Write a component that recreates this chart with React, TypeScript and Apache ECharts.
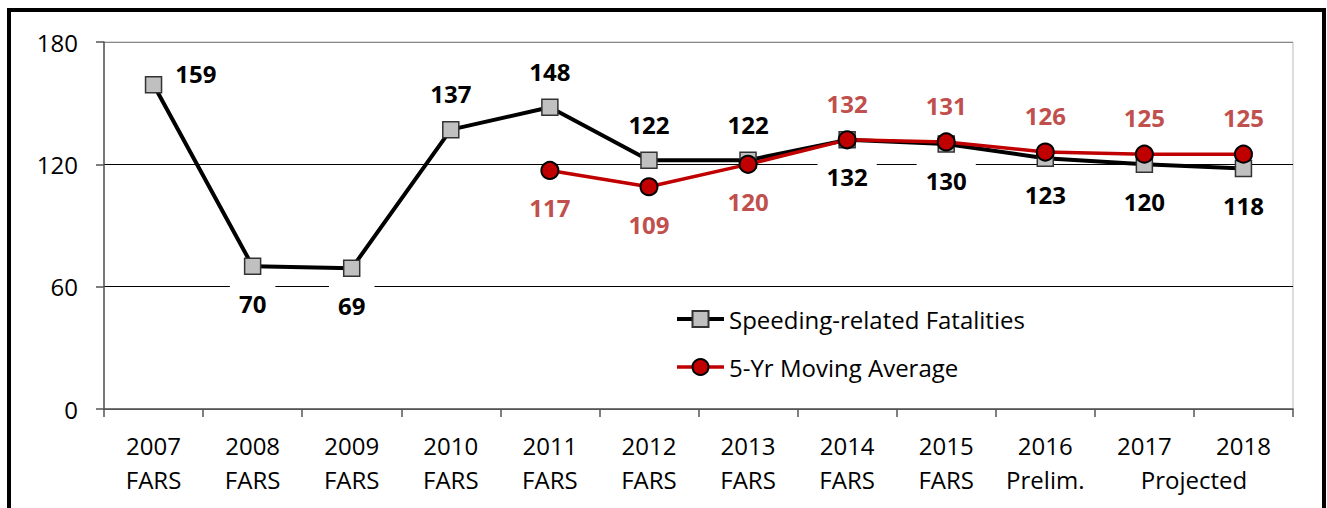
import React, { useEffect, useRef } from "react";
import * as echarts from "echarts";

const years = ["2007", "2008", "2009", "2010", "2011", "2012", "2013", "2014", "2015", "2016", "2017", "2018"];
const subLabels = ["FARS", "FARS", "FARS", "FARS", "FARS", "FARS", "FARS", "FARS", "FARS", "Prelim.", "", ""];
const projectedLabel = "Projected";
const fatalities = [159, 70, 69, 137, 148, 122, 122, 132, 130, 123, 120, 118];
const movingAvg = [null, null, null, null, 117, 109, 120, 132, 131, 126, 125, 125];
// label placement per point
const fatalPos = ["right", "bottom", "bottom", "top", "top", "top", "top", "bottom", "bottom", "bottom", "bottom", "bottom"];
const avgPos = ["", "", "", "", "bottom", "bottom", "bottom", "top", "top", "top", "top", "top"];
const yTicks = { min: 0, max: 180, interval: 60 };

const FONT = "'Open Sans', 'Noto Sans', sans-serif";

export default function App() {
  const ref = useRef<HTMLDivElement>(null);
  useEffect(() => {
    if (!ref.current) return;
    const chart = echarts.init(ref.current, null, { renderer: "svg" });
    const categories = years.map((y, i) => (subLabels[i] ? y + "\n" + subLabels[i] : y));

    const labelBase = {
      show: true,
      fontFamily: FONT,
      fontSize: 24,
      fontWeight: "bold" as const,
      backgroundColor: "#fff",
    };
    const posLabel = (p: string) =>
      p === "right"
        ? { position: "right", distance: 4, offset: [0, -11], padding: [4, 9] }
        : p === "bottom"
        ? { position: "bottom", distance: 7, padding: [9, 9, 4, 9] }
        : { position: "top", distance: 11, padding: [4, 9] };

    const fatalData = fatalities.map((v, i) => ({ value: v, label: posLabel(fatalPos[i]) }));
    const avgData = movingAvg.map((v, i) => ({ value: v, label: posLabel(avgPos[i] || "top") }));

    chart.setOption({
      animation: false,
      backgroundColor: "#fff",
      grid: {
        left: 104,
        right: 34,
        top: 42,
        bottom: 99,
        show: true,
        borderColor: "#bbb",
        borderWidth: 1,
      },
      legend: {
        left: 670,
        top: 302,
        orient: "vertical",
        itemWidth: 47,
        itemHeight: 20,
        itemGap: 24,
        lineStyle: { width: "inherit" },
        textStyle: { fontFamily: FONT, fontSize: 24, color: "#000" },
        data: ["Speeding-related Fatalities", "5-Yr Moving Average"],
      },
      xAxis: {
        type: "category",
        data: categories,
        boundaryGap: true,
        axisLine: { lineStyle: { color: "#555", width: 1.5 } },
        axisTick: { show: true, length: 8, interval: 0, lineStyle: { color: "#555", width: 1.5 } },
        axisLabel: {
          interval: 0,
          fontFamily: FONT,
          fontSize: 24,
          lineHeight: 34,
          color: "#000",
          margin: 19,
        },
      },
      yAxis: {
        type: "value",
        min: yTicks.min,
        max: yTicks.max,
        interval: yTicks.interval,
        axisLine: { show: true, lineStyle: { color: "#555", width: 1.5 } },
        axisTick: { show: true, length: 8, lineStyle: { color: "#555", width: 1.5 } },
        axisLabel: { fontFamily: FONT, fontSize: 24, color: "#000", margin: 26 },
        splitLine: { show: true, lineStyle: { color: ["#555", "#000", "#000", "#888"], width: 1 } },
      },
      series: [
        {
          name: "Speeding-related Fatalities",
          type: "line",
          data: fatalData,
          symbol: "rect",
          symbolSize: 16,
          lineStyle: { color: "#000", width: 4 },
          itemStyle: { color: "#C0C0C0", borderColor: "#333", borderWidth: 1.5 },
          label: { ...labelBase, color: "#000" },
          z: 2,
        },
        {
          name: "5-Yr Moving Average",
          type: "line",
          data: avgData,
          symbol: "circle",
          symbolSize: 17,
          lineStyle: { color: "#C00000", width: 3.5 },
          itemStyle: { color: "#C00000", borderColor: "#000", borderWidth: 2 },
          label: { ...labelBase, color: "#C0504D" },
          z: 3,
        },
      ],
    });

    const p1 = chart.convertToPixel({ xAxisIndex: 0 }, categories[10]) as number;
    const p2 = chart.convertToPixel({ xAxisIndex: 0 }, categories[11]) as number;
    const axisY = chart.convertToPixel({ yAxisIndex: 0 }, 0) as number;
    chart.setOption({
      graphic: [
        {
          type: "text",
          x: (p1 + p2) / 2,
          y: axisY + 19 + 34 + 17,
          style: {
            text: projectedLabel,
            font: `24px ${FONT}`,
            fill: "#000",
            align: "center",
            verticalAlign: "middle",
          },
        },
        {
          type: "rect",
          shape: { x: 9, y: 10, width: 1315, height: 600 },
          style: { fill: "none", stroke: "#000", lineWidth: 4 },
          silent: true,
        },
      ],
    });

    return () => chart.dispose();
  }, []);
  return <div ref={ref} style={{ position: "fixed", left: 0, top: 0, width: 1327, height: 508 }} />;
}
